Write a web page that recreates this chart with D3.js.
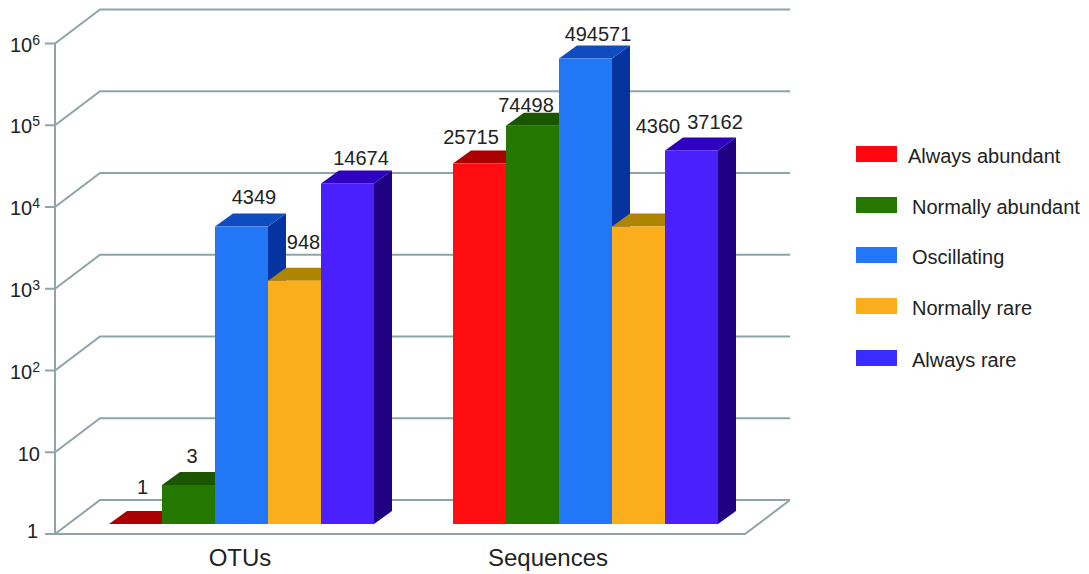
<!DOCTYPE html>
<html>
<head>
<meta charset="utf-8">
<style>
  html, body { margin: 0; padding: 0; background: #fff; }
  svg { display: block; }
  text { font-family: "Liberation Sans", Arial, sans-serif; fill: #222; }
</style>
<script src="https://cdn.jsdelivr.net/npm/d3@7/dist/d3.min.js"></script>
</head>
<body>
<svg id="chart" width="1089" height="574"></svg>
<script>
// Abundance classes and their counts per group
const categories = ["OTUs", "Sequences"];
const seriesNames = ["Always abundant", "Normally abundant", "Oscillating", "Normally rare", "Always rare"];
const otuValues = [1, 3, 4349, 948, 14674];
const sequenceValues = [25715, 74498, 494571, 4360, 37162];
const tickExponents = [0, 1, 2, 3, 4, 5, 6];

// Face colours of each column
const frontColors = ["#ff0d10", "#247800", "#2277f7", "#fbad1c", "#4a20ff"];
const topColors = ["#ab0000", "#1a5500", "#0f4cc0", "#ae8500", "#2e00c0"];
const sideColors = ["#800000", "#103a00", "#0533a0", "#806000", "#1f0080"];
const legendColors = ["#ff0510", "#247800", "#2277f7", "#fbad1c", "#3a2cff"];

// Value-label nudges from the default spot above each column
const labelNudges = [
  [[-2, -9], [-5.5, -0.5], [3.5, -1.5], [0, -10.5], [4.5, 2.5]],
  [[-17.5, 1.5], [-15.5, 7.5], [3.5, 3.5], [10.5, -72.5], [14.5, -0.5]]
];

const svg = d3.select("#chart");
const gridColor = "#8fa4a9";

// Oblique projection of the depth axis
const depthX = 45, depthY = -34;
const barDepthX = 18, barDepthY = -13;
const barLift = -10;

const y = d3.scaleLog().domain([1, 1e6]).range([534, 43.5]);
const left = 55, right = 745;
const bw = 53;
const groupStart = { "OTUs": 109, "Sequences": 453 };

// Gridlines: tick stub, diagonal along the side wall, line along the back wall
const grid = svg.append("g").attr("fill", "none").attr("stroke", gridColor).attr("stroke-width", 2);
tickExponents.forEach(e => {
  const py = y(Math.pow(10, e));
  grid.append("path").attr("d", d3.line()([
    [left - 10, py], [left, py], [left + depthX, py + depthY], [right + depthX, py + depthY]
  ]));
});
grid.append("path").attr("d", d3.line()([[left, y(1)], [left, y(1e6)]]));
grid.append("path").attr("d", d3.line()([
  [left, y(1)], [right, y(1)], [right + depthX, y(1) + depthY]
]));

// Axis labels with superscript exponents
const tickLabels = svg.append("g").attr("text-anchor", "end");
tickExponents.forEach(e => {
  const py = y(Math.pow(10, e));
  const t = tickLabels.append("text").attr("x", 40).attr("y", py + 8).attr("font-size", 20);
  if (e === 0) {
    t.text("1").attr("x", 38).attr("y", py + 4);
  } else if (e === 1) {
    t.text("10").attr("y", py + 9);
  } else {
    t.append("tspan").text("10");
    t.append("tspan").text(e).attr("font-size", 14).attr("dy", -7);
  }
});

// Columns, painted left to right so each one covers its neighbour's side face
const bars = svg.append("g");
const labels = svg.append("g").attr("text-anchor", "middle").attr("font-size", 20);
[otuValues, sequenceValues].forEach((vals, g) => {
  vals.forEach((v, i) => {
    const x0 = groupStart[categories[g]] + i * bw;
    const x1 = x0 + bw;
    const yb = y(1) + barLift;
    const yt = y(v) + barLift;
    const poly = pts => d3.line()(pts) + "Z";
    bars.append("path").attr("fill", sideColors[i]).attr("d", poly([
      [x1, yt], [x1 + barDepthX, yt + barDepthY], [x1 + barDepthX, yb + barDepthY], [x1, yb]
    ]));
    bars.append("path").attr("fill", topColors[i]).attr("d", poly([
      [x0, yt], [x0 + barDepthX, yt + barDepthY], [x1 + barDepthX, yt + barDepthY], [x1, yt]
    ]));
    if (yb > yt) {
      bars.append("rect").attr("x", x0).attr("y", yt).attr("width", bw).attr("height", yb - yt).attr("fill", frontColors[i]);
    }
    const [nx, ny] = labelNudges[g][i];
    labels.append("text")
      .attr("x", (x0 + x1) / 2 + barDepthX / 2 + nx)
      .attr("y", yt + barDepthY - 8 + ny)
      .text(v);
  });
});

// Group names below the floor
const catCenter = { "OTUs": 240, "Sequences": 548 };
svg.append("g").attr("text-anchor", "middle").attr("font-size", 24)
  .selectAll("text").data(categories).join("text")
  .attr("x", d => catCenter[d]).attr("y", 566).text(d => d);

// Legend
const legendRows = [146, 197, 247, 298, 350];
const legend = svg.append("g");
seriesNames.forEach((name, i) => {
  legend.append("rect").attr("x", 856).attr("y", legendRows[i]).attr("width", 41).attr("height", 16).attr("fill", legendColors[i]);
  legend.append("text").attr("x", i === 0 ? 908 : 912).attr("y", legendRows[i] + 16.5).attr("font-size", 20).text(name);
});
</script>
</body>
</html>
